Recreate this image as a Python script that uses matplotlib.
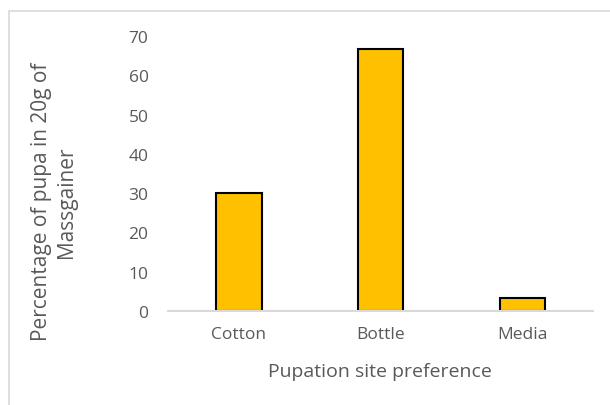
import matplotlib.pyplot as plt
from matplotlib.patches import Rectangle

# pupation site preference, % of pupae in 20 g of mass gainer
sites = ['Cotton', 'Bottle', 'Media']
pupa_pct = [30.0, 66.7, 3.3]
y_ticks = [0, 10, 20, 30, 40, 50, 60, 70]

plt.rcParams['font.family'] = ['Open Sans', 'DejaVu Sans']
text_grey = '#595959'

W, H = 610, 406
fig = plt.figure(figsize=(W / 100, H / 100), dpi=100)

# light frame along the top and left edge
fig.patches.append(Rectangle((9 / W, -0.1), 1.2, 1 - 12 / H + 0.1,
                             transform=fig.transFigure, fill=False,
                             edgecolor='#d9d9d9', linewidth=1.2))

ax = fig.add_axes([168 / W, 1 - 312 / H, (593 - 168) / W, (312 - 37) / H])
ax.bar(sites, pupa_pct, width=0.32, color='#ffc000',
       edgecolor='black', linewidth=1.5)

ax.set_xlim(-0.5, 2.5)
ax.set_ylim(0, 70)
ax.set_yticks(y_ticks)
for side in ['top', 'right', 'left']:
    ax.spines[side].set_visible(False)
ax.spines['bottom'].set_color('#d9d9d9')
ax.spines['bottom'].set_linewidth(1.5)
ax.tick_params(axis='both', length=0, labelsize=12.5, colors=text_grey)
ax.tick_params(axis='y', pad=14)
ax.tick_params(axis='x', pad=11)

fig.text(380 / W, 1 - 372 / H, 'Pupation site preference', ha='center',
         va='center', fontsize=14, color=text_grey)
fig.text(54 / W, 1 - 202 / H, 'Percentage of pupa in 20g of\nMassgainer',
         rotation=90, ha='center', va='center', fontsize=15,
         color=text_grey, linespacing=1.2, multialignment='center')

fig.savefig('out.png', dpi=100)
